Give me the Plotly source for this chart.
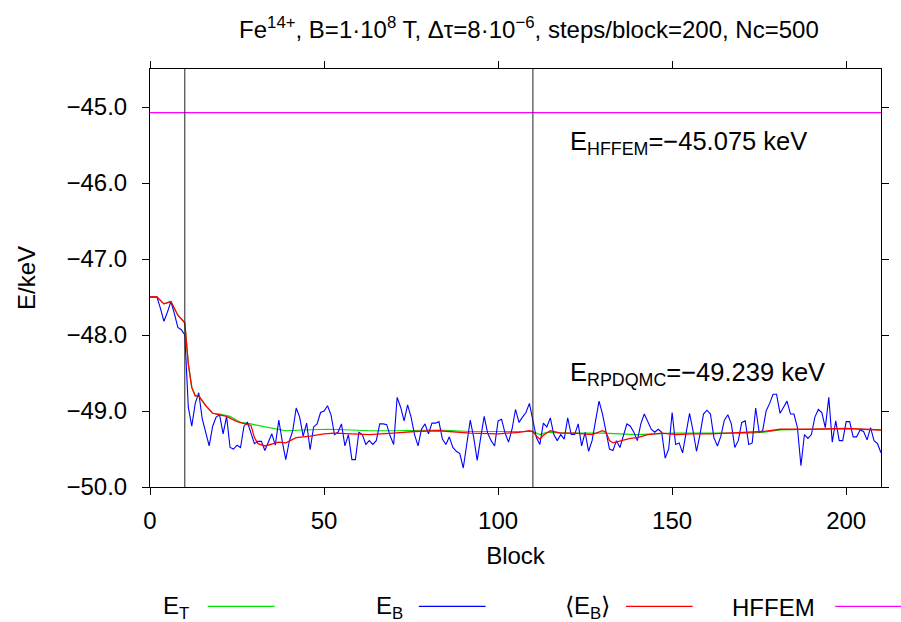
import plotly.graph_objects as go

# ---------------- data ----------------
blocks = list(range(211))
e_b = [
    -47.50, -47.50, -47.50, -47.65, -47.82, -47.70, -47.56, -47.72, -47.90, -47.93,
    -48.00, -48.95, -49.20, -48.90, -48.76, -49.10, -49.30, -49.46, -49.20, -49.08,
    -49.05, -49.30, -49.07, -49.48, -49.50, -49.45, -49.48, -49.20, -49.15, -49.30,
    -49.43, -49.40, -49.40, -49.52, -49.40, -49.30, -49.45, -49.12, -49.40, -49.64,
    -49.40, -49.26, -48.96, -49.08, -49.33, -49.16, -49.51, -49.21, -49.17, -49.02,
    -49.00, -48.93, -49.05, -49.31, -49.28, -49.17, -49.46, -49.31, -49.64, -49.64,
    -49.28, -49.31, -49.44, -49.39, -49.44, -49.39, -49.17, -49.17, -49.18, -49.33,
    -49.44, -48.82, -48.95, -49.13, -48.92, -49.08, -49.31, -49.46, -49.24, -49.17,
    -49.30, -49.16, -49.16, -49.14, -49.37, -49.44, -49.34, -49.48, -49.53, -49.56,
    -49.75, -49.43, -49.12, -49.35, -49.65, -49.35, -49.07, -49.29, -49.39, -49.46,
    -49.13, -49.11, -49.29, -49.41, -49.24, -48.98, -49.15, -49.08, -49.02, -48.90,
    -49.15, -49.35, -49.44, -49.16, -49.21, -49.09, -49.31, -49.39, -49.31, -49.37,
    -49.09, -49.31, -49.31, -49.17, -49.46, -49.28, -49.53, -49.39, -49.13, -48.87,
    -49.04, -49.26, -49.50, -49.52, -49.39, -49.48, -49.31, -49.17, -49.20, -49.28,
    -49.39, -49.17, -49.04, -49.13, -49.24, -49.28, -49.24, -49.28, -49.62, -49.50,
    -49.02, -49.44, -49.42, -49.55, -49.31, -49.03, -49.26, -49.53, -49.31, -49.04,
    -48.99, -49.04, -49.35, -49.46, -49.33, -49.12, -49.05, -49.17, -49.48, -49.39,
    -49.15, -49.13, -49.44, -49.42, -48.96, -49.28, -49.26, -49.00, -48.90, -48.78,
    -48.78, -49.03, -48.95, -48.87, -49.04, -49.04, -49.22, -49.72, -49.31, -49.36,
    -49.31, -49.08, -48.98, -49.02, -49.22, -48.82, -49.41, -49.13, -49.39, -49.39,
    -49.14, -49.14, -49.34, -49.34, -49.25, -49.27, -49.38, -49.22, -49.39, -49.43,
    -49.55,
]

avg_blocks = [0, 2, 4, 6, 8, 10, 11, 12, 13, 14, 16, 18, 20, 22, 25, 28, 29, 30, 31, 33,
              35, 37, 39, 42, 46, 50, 53, 57, 63, 70, 76, 83, 92, 100, 106, 109, 110, 111,
              112, 113, 115, 118, 122, 127, 130, 131, 132, 133, 136, 138, 140, 143, 147,
              151, 156, 161, 166, 174, 176, 181, 186, 190, 200, 210]
e_avg = [-47.50, -47.50, -47.59, -47.56, -47.74, -47.84, -48.38, -48.69, -48.80, -48.80,
         -48.93, -49.03, -49.05, -49.07, -49.14, -49.18, -49.19, -49.35, -49.43, -49.46,
         -49.44, -49.41, -49.42, -49.35, -49.33, -49.30, -49.29, -49.30, -49.31, -49.29,
         -49.27, -49.26, -49.29, -49.30, -49.28, -49.26, -49.27, -49.33, -49.37, -49.32,
         -49.26, -49.29, -49.29, -49.31, -49.26, -49.28, -49.39, -49.42, -49.38, -49.36,
         -49.35, -49.31, -49.29, -49.31, -49.30, -49.30, -49.29, -49.28, -49.27, -49.24,
         -49.24, -49.24, -49.23, -49.25]

et_blocks = [0, 2, 4, 6, 8, 10, 11, 12, 13, 14, 16, 18, 20, 23, 26, 29, 32, 35, 39, 44,
             51, 58, 63, 70, 83, 92, 105, 110, 112, 114, 120, 130, 140, 150, 160, 171,
             176, 181, 190, 200, 210]
e_t = [-47.50, -47.50, -47.59, -47.56, -47.74, -47.84, -48.38, -48.69, -48.80, -48.80,
       -48.93, -49.03, -49.04, -49.07, -49.15, -49.17, -49.20, -49.23, -49.26, -49.25,
       -49.24, -49.25, -49.26, -49.26, -49.25, -49.27, -49.27, -49.27, -49.31, -49.28,
       -49.29, -49.29, -49.31, -49.29, -49.29, -49.29, -49.28, -49.25, -49.24, -49.23,
       -49.25]

e_hffem = -45.075
e_rpdqmc = -49.239
reset_blocks = [10, 110]
x_ticks = [0, 50, 100, 150, 200]
y_ticks = [-50.0, -49.0, -48.0, -47.0, -46.0, -45.0]
y_tick_labels = ["\u221250.0", "\u221249.0", "\u221248.0", "\u221247.0", "\u221246.0", "\u221245.0"]
x_range = [0, 210]
y_range = [-50.0, -44.5]

FONT = "Liberation Sans, Arial, sans-serif"
GREEN, BLUE, RED, MAGENTA = "#00e000", "#0000ff", "#ff0000", "#ff00ff"

def fmt(v):
    return ("\u2212" if v < 0 else "") + f"{abs(v):.3f}"

fig = go.Figure()
fig.add_trace(go.Scatter(x=et_blocks, y=e_t, mode="lines", line=dict(color=GREEN, width=1.2), name="E_T"))
fig.add_trace(go.Scatter(x=blocks, y=e_b, mode="lines", line=dict(color=BLUE, width=1.1), name="E_B"))
fig.add_trace(go.Scatter(x=avg_blocks, y=e_avg, mode="lines", line=dict(color=RED, width=1.3), name="<E_B>"))
fig.add_trace(go.Scatter(x=x_range, y=[e_hffem, e_hffem], mode="lines", line=dict(color=MAGENTA, width=1.3), name="HFFEM"))

for b in reset_blocks:
    fig.add_shape(type="line", xref="x", yref="paper", x0=b, x1=b, y0=0, y1=1,
                  line=dict(color="#222222", width=1))

# text annotations inside plot
fig.add_annotation(x=120.2, y=-45.475, xref="x", yref="y", xanchor="left", yanchor="middle",
                   text="E<sub>HFFEM</sub>=" + fmt(e_hffem) + " keV", showarrow=False,
                   font=dict(family=FONT, size=25.5, color="black"))
fig.add_annotation(x=120.2, y=-48.51, xref="x", yref="y", xanchor="left", yanchor="middle",
                   text="E<sub>RPDQMC</sub>=" + fmt(e_rpdqmc) + " keV", showarrow=False,
                   font=dict(family=FONT, size=25.5, color="black"))

# custom legend (text then sample line), paper coordinates
legend_items = [("E<sub>T</sub>", GREEN), ("E<sub>B</sub>", BLUE),
                ("\u27e8E<sub>B</sub>\u27e9", RED), ("HFFEM", MAGENTA)]
leg_text_right = [0.0559, 0.3488, 0.6322, 0.9128]
leg_line_x0 = [0.079, 0.3678, 0.6512, 0.9373]
leg_y = -0.2854
for (txt, col), tr, lx in zip(legend_items, leg_text_right, leg_line_x0):
    fig.add_annotation(x=tr, y=leg_y - 0.002, xref="paper", yref="paper", xanchor="right",
                       yanchor="middle", text=txt, showarrow=False,
                       font=dict(family=FONT, size=24, color="black"))
    fig.add_shape(type="line", xref="paper", yref="paper", x0=lx, x1=lx + 0.0913,
                  y0=leg_y, y1=leg_y, line=dict(color=col, width=1.2))

axis_common = dict(showline=True, linecolor="black", linewidth=1, mirror="ticks",
                   ticks="outside", ticklen=7, tickcolor="black", tickwidth=1,
                   showgrid=False, zeroline=False,
                   tickfont=dict(family=FONT, size=24, color="black"))

fig.update_xaxes(range=x_range, tickvals=x_ticks, ticklabelstandoff=5, **axis_common,
                 title=dict(text="Block", font=dict(family=FONT, size=24, color="black"), standoff=14))
fig.update_yaxes(range=y_range, tickvals=y_ticks, ticktext=y_tick_labels, ticklabelstandoff=10,
                 **axis_common,
                 title=dict(text="E/keV", font=dict(family=FONT, size=24, color="black"), standoff=24))

fig.update_layout(
    width=901, height=622,
    margin=dict(l=150, r=17, t=69, b=135),
    plot_bgcolor="white", paper_bgcolor="white",
    showlegend=False,
    title=dict(text="Fe<sup>14+</sup>, B=1\u00b710<sup>8</sup> T, \u0394\u03c4=8\u00b710<sup>\u22126</sup>, steps/block=200, Nc=500",
               x=0.587, xref="container", xanchor="center", y=0.952, yanchor="middle",
               font=dict(family=FONT, size=24, color="black")),
    font=dict(family=FONT, color="black"),
)

fig.write_html("out.html", config={"displayModeBar": False},
               post_script="document.body.style.margin='0';document.body.style.overflow='hidden';")
